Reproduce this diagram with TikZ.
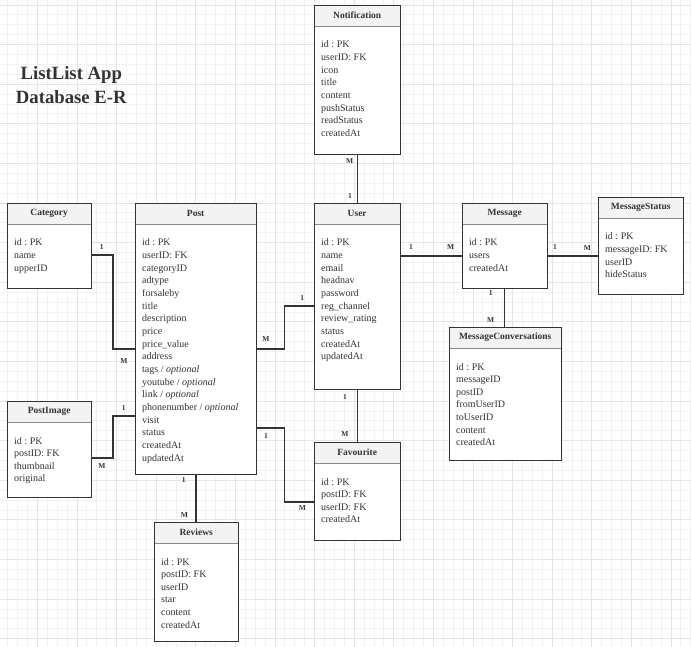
\documentclass[tikz,border=0pt]{standalone}
\usepackage{fontspec}
\setmainfont{Liberation Serif}
\usetikzlibrary{calc}
\definecolor{gridminor}{HTML}{F2F2F2}
\definecolor{gridmajor}{HTML}{E5E5E5}
\definecolor{ink}{HTML}{333333}
\definecolor{sepline}{HTML}{8A8A8A}
\definecolor{headfill}{HTML}{F3F3F3}
\newcommand\erentity[7]{%
  \node[entbox, anchor=north west, minimum width=#4-#2, minimum height=#5-#3] (#1) at (#2,-#3) {};
  \node[headbox, anchor=north west, minimum width=#4-#2, minimum height=21] (#1-h) at (#2,-#3) {#6};
  \draw[sepline, line width=1pt] (#1-h.south west) -- (#1-h.south east);
  \draw[ink, line width=0.9pt] (#1.north west) rectangle (#1.south east);
  \foreach \f [count=\i] in {#7} {
    \node[fieldtxt] (#1-f\i) at (#2+7, -#3-43-12.65*\i+12.65) {\f};
  }
}
\frenchspacing
\begin{document}
\frenchspacing
\begin{tikzpicture}[x=1pt,y=1pt,
  entbox/.style={draw=ink, line width=0.9pt, fill=white, inner sep=0pt},
  headbox/.style={fill=headfill, inner sep=0pt, font=\fontsize{9.5}{11}\selectfont\bfseries, text=ink},
  fieldtxt/.style={font=\fontsize{10}{12}\selectfont, text=ink, inner sep=0pt, anchor=base west},
  conn/.style={draw=ink, line width=1.5pt},
  card/.style={font=\fontsize{7.5}{9}\selectfont\bfseries, text=ink, inner sep=0pt},
  ttl/.style={font=\fontsize{18.7}{23}\selectfont\bfseries, text=ink, anchor=base, inner sep=0pt}
]
\useasboundingbox (0,0) rectangle (691,-647);
\begin{scope}
  \clip (0,0) rectangle (691,-647);
  \fill[white] (0,0) rectangle (691,-647);
  \foreach \k in {0,...,70} {
    \draw[gridminor, line width=0.8pt] ({7.6+9.9*(\k-1)},0) -- ++(0,-647);
  }
  \foreach \k in {0,...,66} {
    \draw[gridminor, line width=0.8pt] (0,{-5-9.9*\k}) -- ++(691,0);
  }
  \foreach \k in {0,...,17} {
    \draw[gridmajor, line width=0.8pt] ({37.3+39.6*\k},0) -- ++(0,-647);
  }
  \foreach \k in {0,...,16} {
    \draw[gridmajor, line width=0.8pt] (0,{-5-39.6*\k}) -- ++(691,0);
  }
\end{scope}

% title
\node[ttl] (title1) at (71.3,-80) {ListList App};
\node[ttl] (title2) at (71.3,-104) {Database E-R};

% entities
\erentity{notif}{314}{5}{400}{154}{Notification}{id : PK, userID: FK, icon, title, content, pushStatus, readStatus, createdAt}
\erentity{category}{7}{203}{91}{288}{Category}{id : PK, name, upperID}
\erentity{post}{135}{203}{256}{474}{Post}{id : PK, userID: FK, categoryID, adtype, forsaleby, title, description, price, price\_value, address, tags / \textit{optional}, youtube / \textit{optional}, link / \textit{optional}, phonenumber / \textit{optional}, visit, status, createdAt, updatedAt}
\erentity{postimage}{7}{401}{91}{497}{PostImage}{id : PK, postID: FK, thumbnail, original}
\erentity{user}{314}{203}{400}{389}{User}{id : PK, name, email, headnav, password, reg\_channel, review\_rating, status, createdAt, updatedAt}
\erentity{message}{462}{203}{547}{288}{Message}{id : PK, users, createdAt}
\erentity{msgstatus}{598}{197}{683}{294}{MessageStatus}{id : PK, messageID: FK, userID, hideStatus}
\erentity{msgconv}{449}{327}{561}{460}{MessageConversations}{id : PK, messageID, postID, fromUserID, toUserID, content, createdAt}
\erentity{favourite}{314}{442}{400}{540}{Favourite}{id : PK, postID: FK, userID: FK, createdAt}
\erentity{reviews}{154}{522}{238}{641}{Reviews}{id : PK, postID: FK, userID, star, content, createdAt}

% connectors
\draw[conn] (notif.south) -- (user.north);
\draw[conn] (category.east |- 0,-255) -- (113,-255) -- (113,-349) -- (post.west |- 0,-349);
\draw[conn] (postimage.east |- 0,-458) -- (113,-458) -- (113,-416) -- (post.west |- 0,-416);
\draw[conn] (post.east |- 0,-349) -- (284.5,-349) -- (284.5,-306) -- (user.west |- 0,-306);
\draw[conn] (post.east |- 0,-428) -- (284.5,-428) -- (284.5,-502) -- (favourite.west |- 0,-502);
\draw[conn] (post.south -| 196,0) -- (reviews.north -| 196,0);
\draw[conn] (user.east |- 0,-256) -- (message.west |- 0,-256);
\draw[conn] (user.south) -- (favourite.north);
\draw[conn] (message.east |- 0,-256) -- (msgstatus.west |- 0,-256);
\draw[conn] (message.south -| 504.5,0) -- (msgconv.north -| 504.5,0);

% cardinalities
\node[card] (l1) at (349.7,-161) {M};
\node[card] (l2) at (350,-196) {1};
\node[card] (l3) at (101.7,-247.3) {1};
\node[card] (l4) at (124,-360.7) {M};
\node[card] (l5) at (123.7,-408.3) {1};
\node[card] (l6) at (102,-466.3) {M};
\node[card] (l7) at (266,-339.3) {M};
\node[card] (l8) at (302.3,-297.7) {1};
\node[card] (l9) at (266,-435.7) {1};
\node[card] (l10) at (302.3,-508) {M};
\node[card] (l11) at (183.7,-480.3) {1};
\node[card] (l12) at (184.3,-515) {M};
\node[card] (l13) at (411,-247.3) {1};
\node[card] (l14) at (450.7,-247.3) {M};
\node[card] (l15) at (555,-247.3) {1};
\node[card] (l16) at (587.5,-248.5) {M};
\node[card] (l17) at (345,-397.3) {1};
\node[card] (l18) at (345,-434.3) {M};
\node[card] (l19) at (490.7,-292.7) {1};
\node[card] (l20) at (490.7,-320) {M};
\end{tikzpicture}
\end{document}
